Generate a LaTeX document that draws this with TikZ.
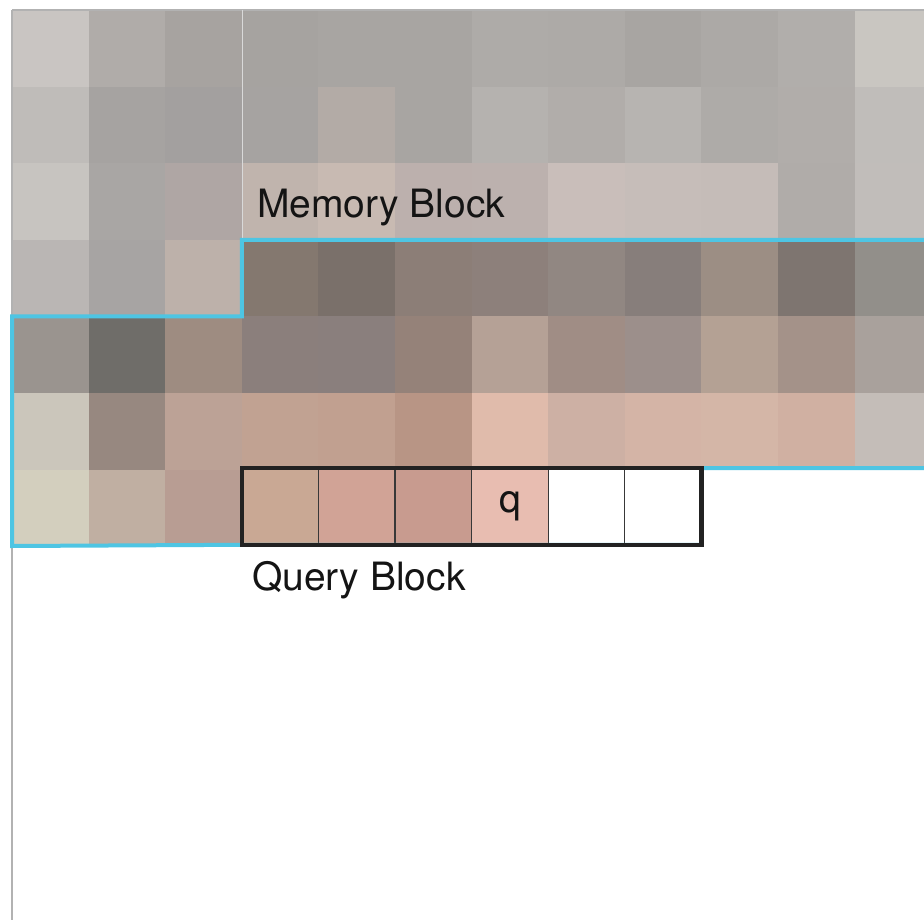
\documentclass[tikz,border=0pt]{standalone}
\usepackage{fontspec}
\setmainfont{TeX Gyre Heros}
\def\cw{76.6}
\newcommand\pixrow[2]{%
  \foreach \h [count=\i from 0] in {#2} {%
    \definecolor{tmpc}{HTML}{\h}%
    \fill[tmpc] ({12+\i*\cw},{10+#1*\cw}) rectangle ++(\cw+0.4,\cw+0.4);
  }%
}
\definecolor{outlineblue}{HTML}{4EC5E3}
\definecolor{framegray}{HTML}{222222}
\tikzset{
  qcell/.style={draw=framegray!90, line width=1.2pt, minimum width=76.6pt, minimum height=76.6pt, inner sep=0pt, outer sep=0pt},
  lbl/.style={font=\fontsize{39}{47}\selectfont, inner sep=0pt, text=black!92}
}
\begin{document}
\begin{tikzpicture}[x=1pt,y=-1pt]
\useasboundingbox (0,0) rectangle (924,920);
\fill[white] (0,0) rectangle (924,920);
\begin{scope}
\clip (0,0) rectangle (924,920);
\pixrow{0}{C9C5C2,B0ACA9,A7A3A0,A6A3A0,A8A5A2,A8A5A2,AEABA8,ADAAA7,A8A5A2,ACA9A6,B1AEAB,C9C6C1}
\pixrow{1}{BFBCB9,A6A3A1,A3A09F,A6A3A1,B3ABA6,A8A5A2,B5B2AF,B1ADAA,B7B4B1,AEABA8,B1ADAA,C0BDBA}
\pixrow{2}{C7C4C0,A9A6A4,AFA6A4,C0B4AD,C8BAB2,BCB0AD,BCB1AE,C9BEBA,C6BDB9,C5BCB8,B0ACA9,C1BDBA}
\pixrow{3}{BAB6B4,A7A4A3,BDB1AA,84786F,7A706A,8C7E77,8D807B,918782,877E7B,9C8E84,7E7570,928F8A}
\pixrow{4}{9A948F,6F6D69,9E8C81,8B7F7C,8A7F7D,958279,B5A196,A08D85,9C8F8B,B4A194,A49289,A9A19C}
\pixrow{5}{CBC6BB,978880,BCA296,C1A292,C1A090,B89585,E0BBAB,CDB0A4,D4B4A6,D4B6A7,D0B0A2,C4BDB8}
\pixrow{6}{D3CFBE,C0AFA2,B89D93}
% thin guide lines
\draw[black!30, line width=1.5pt] (12,10) -- (924,10);
\draw[black!30, line width=1.5pt] (12,10) -- (12,920);
\draw[white!85!black, line width=1pt] (242,10) -- (242,240);
% query cells
\definecolor{qa}{HTML}{C9A894}
\definecolor{qb}{HTML}{D1A396}
\definecolor{qc}{HTML}{C89B8F}
\definecolor{qd}{HTML}{E8BDB1}
\node[qcell, fill=qa] (q0) at (280.1,506.5) {};
\node[qcell, fill=qb] (q1) at (356.7,506.5) {};
\node[qcell, fill=qc] (q2) at (433.3,506.5) {};
\node[qcell, fill=qd, lbl] (q3) at (509.9,506.5) {q};
\node[qcell, fill=white] (q4) at (586.5,506.5) {};
\node[qcell, fill=white] (q5) at (663.1,506.5) {};
% memory block outline
\draw[outlineblue, line width=4pt, line join=miter]
  (q5.north east) ++(240,0) -- (q5.north east) -- (q5.south east) -- (q0.south west)
  -- (12,546) -- (12,316.4) -- (241.8,316.4) -- (241.8,239.8) -- (930,239.8);
% query frame
\draw[framegray, line width=4.5pt] (q0.north west) rectangle (q5.south east);
\end{scope}
\node[lbl, anchor=base west] (mem) at (257,218) {Memory Block};
\node[lbl, anchor=base west] (qry) at (252,590) {Query Block};
\end{tikzpicture}
\end{document}
